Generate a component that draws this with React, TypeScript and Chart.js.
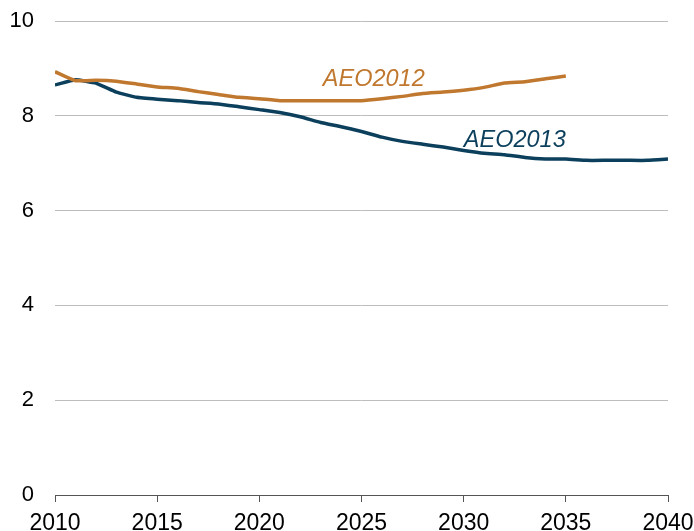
import React, { useEffect, useRef } from "react";
import { Chart, registerables } from "chart.js";
Chart.register(...registerables);

const years2012 = [2010,2011,2012,2013,2014,2015,2016,2017,2018,2019,2020,2021,2022,2023,2024,2025,2026,2027,2028,2029,2030,2031,2032,2033,2034,2035];
const aeo2012 = [8.93,8.74,8.75,8.73,8.67,8.61,8.58,8.51,8.45,8.39,8.36,8.32,8.32,8.32,8.32,8.32,8.36,8.41,8.47,8.50,8.54,8.60,8.69,8.72,8.78,8.84];
const years2013 = [2010,2011,2012,2013,2014,2015,2016,2017,2018,2019,2020,2021,2022,2023,2024,2025,2026,2027,2028,2029,2030,2031,2032,2033,2034,2035,2036,2037,2038,2039,2040];
const aeo2013 = [8.65,8.76,8.69,8.50,8.39,8.35,8.32,8.28,8.25,8.19,8.13,8.07,7.98,7.86,7.77,7.67,7.55,7.46,7.40,7.34,7.27,7.21,7.18,7.12,7.09,7.09,7.06,7.06,7.06,7.06,7.09];
const seriesLabels = ["AEO2012", "AEO2013"];
const labelPositions = [[2025.6, 8.76], [2032.5, 7.49]];
const colors = ["#C0772E", "#0B3F5C"];

export default function App() {
  const ref = useRef<HTMLCanvasElement>(null);
  useEffect(() => {
    document.body.style.margin = "0";
    const labelPlugin = {
      id: "seriesLabels",
      afterDatasetsDraw(chart: any) {
        const { ctx, scales } = chart;
        ctx.save();
        ctx.font = "italic 23.5px 'Liberation Sans', Arial, sans-serif";
        ctx.textAlign = "center";
        ctx.textBaseline = "middle";
        seriesLabels.forEach((t, i) => {
          ctx.fillStyle = colors[i];
          ctx.fillText(t, scales.x.getPixelForValue(labelPositions[i][0]), scales.y.getPixelForValue(labelPositions[i][1]));
        });
        ctx.restore();
      },
    };
    const family = "'Liberation Sans', Arial, sans-serif";
    const chart = new Chart(ref.current!, {
      type: "line",
      data: {
        datasets: [
          { label: seriesLabels[0], data: years2012.map((x, i) => ({ x, y: aeo2012[i] })), borderColor: colors[0], borderWidth: 3.5, pointRadius: 0, tension: 0.1 },
          { label: seriesLabels[1], data: years2013.map((x, i) => ({ x, y: aeo2013[i] })), borderColor: colors[1], borderWidth: 3.5, pointRadius: 0, tension: 0.1 },
        ],
      },
      options: {
        animation: false,
        responsive: false,
        layout: { padding: { top: 21, right: 26, left: 0, bottom: 0 } },
        plugins: { legend: { display: false }, tooltip: { enabled: false } },
        scales: {
          x: {
            type: "linear",
            min: 2010,
            max: 2040,
            afterFit: (s: any) => { s.height = 36; s.paddingLeft = 0; s.paddingRight = 0; },
            ticks: { stepSize: 5, color: "#000", font: { family, size: 23 }, padding: 8, maxRotation: 0, callback: (v: any) => String(v) },
            grid: { drawOnChartArea: false, drawTicks: true, tickLength: 7, color: "#555", lineWidth: 1 },
            border: { display: true, color: "#555", width: 1 },
          },
          y: {
            min: 0,
            max: 10,
            afterFit: (s: any) => { s.width = 55; s.paddingTop = 0; s.paddingBottom = 0; },
            ticks: { stepSize: 2, color: "#000", font: { family, size: 22 }, padding: 21 },
            grid: { drawTicks: false, color: "#BDBDBD", lineWidth: 1 },
            border: { display: false },
          },
        },
      },
      plugins: [labelPlugin],
    });
    return () => chart.destroy();
  }, []);
  return <canvas ref={ref} width={694} height={531} style={{ display: "block" }} />;
}
